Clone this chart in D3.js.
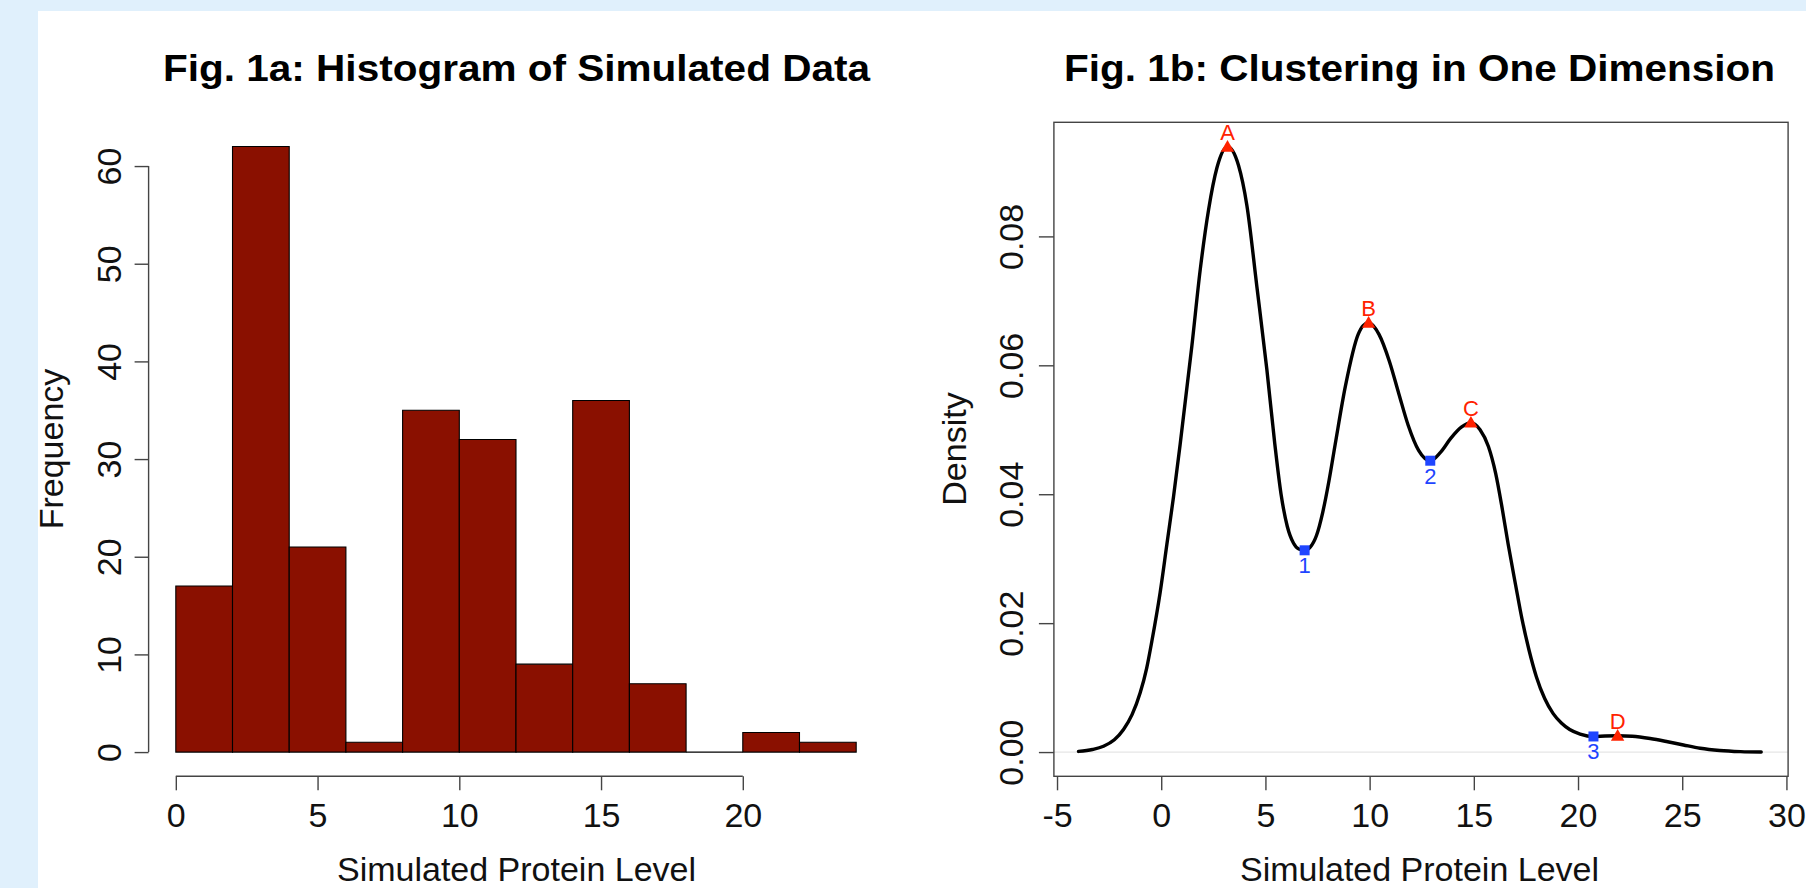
<!DOCTYPE html>
<html>
<head>
<meta charset="utf-8">
<script src="https://cdn.jsdelivr.net/npm/d3@7"></script>
<style>
  html, body { margin: 0; padding: 0; background: #e0f0fc; }
  svg { display: block; }
  text { font-family: "Liberation Sans", Arial, Helvetica, sans-serif; }
</style>
</head>
<body>
<svg id="chart" width="1806" height="888"></svg>
<script>
// ---------- Data ----------
// Fig. 1a histogram
const histBinStarts = [0, 2, 4, 6, 8, 10, 12, 14, 16, 18, 20, 22];
const histBinWidth = 2;
const histCounts = [17, 62, 21, 1, 35, 32, 9, 36, 7, 0, 2, 1];
const histXTicks = [0, 5, 10, 15, 20];
const histYTicks = [0, 10, 20, 30, 40, 50, 60];

// Fig. 1b density curve
const densityX = [-3.97, -3.3, -2.77, -2.25, -1.81, -1.4, -1.01, -0.7, -0.45, -0.05, 0.27, 0.59, 0.91, 1.47, 1.87, 2.27, 2.67, 3.18,
  3.71, 4.11, 4.59, 5.07, 5.45, 5.75, 6.05, 6.35, 6.6, 6.88,
  7.15, 7.45, 7.75, 8.05, 8.35, 8.84, 9.45, 9.7, 9.95,
  10.45, 10.95, 11.4, 11.85, 12.35, 12.91, 13.4, 13.9, 14.4, 14.86,
  15.3, 15.7, 16.05, 16.35, 16.65, 17.0, 17.32, 17.65, 18.0, 18.4, 18.8, 19.2, 19.6, 20.1, 20.74,
  21.3, 21.9, 22.6, 23.46, 24.3, 25.06, 25.86, 26.8, 27.8, 28.79];
const densityY = [0.0001, 0.0004, 0.0009, 0.0019, 0.0035, 0.0058, 0.0092, 0.0130, 0.0172, 0.0248, 0.0322, 0.0396, 0.0478, 0.0630, 0.0748, 0.0841, 0.0906, 0.0939,
  0.0910, 0.0848, 0.0722, 0.0593, 0.0478, 0.0400, 0.0350, 0.0324, 0.0315, 0.0313,
  0.0318, 0.0336, 0.0372, 0.0421, 0.0478, 0.0568, 0.0648, 0.0662, 0.0666,
  0.0648, 0.0606, 0.0556, 0.0507, 0.0468, 0.0452, 0.0465, 0.0487, 0.0504, 0.0511,
  0.0500, 0.0474, 0.0432, 0.0380, 0.0322, 0.0260, 0.0205, 0.0158, 0.0117, 0.0083, 0.0060, 0.0045, 0.0035, 0.0028, 0.00242,
  0.00250, 0.00253, 0.00245, 0.0021, 0.0016, 0.0011, 0.0006, 0.00025, 0.00007, 0.0000];

const peakLabels = ["A", "B", "C", "D"];
const peakX = [3.18, 9.95, 14.86, 21.9];
const peakY = [0.0939, 0.0666, 0.0511, 0.00253];
const troughLabels = ["1", "2", "3"];
const troughX = [6.88, 12.91, 20.74];
const troughY = [0.0313, 0.0452, 0.00242];

const densXTicks = [-5, 0, 5, 10, 15, 20, 25, 30];
const densYTicks = [0, 0.02, 0.04, 0.06, 0.08];

const titles = ["Fig. 1a: Histogram of Simulated Data", "Fig. 1b: Clustering in One Dimension"];
const xLabel = "Simulated Protein Level";
const yLabels = ["Frequency", "Density"];

// ---------- Drawing ----------
const svg = d3.select("#chart");
svg.append("rect").attr("x", 0).attr("y", 0).attr("width", 1806).attr("height", 888).attr("fill", "#e0f0fc");
svg.append("rect").attr("x", 38).attr("y", 11).attr("width", 1806 - 38).attr("height", 888 - 11).attr("fill", "#ffffff");

const axisColor = "#444";
const tickFont = 34;
const labelFont = 34;

// ----- Left panel -----
const xL = d3.scaleLinear().domain([-0.96, 24.96]).range([148.6, 883.4]);
const yL = d3.scaleLinear().domain([-2.48, 64.48]).range([776.3, 122.3]);

const gL = svg.append("g");

gL.selectAll("path.bar")
  .data(histCounts)
  .join("path")
  .attr("class", "bar")
  .attr("d", (d, i) => {
    const x0 = xL(histBinStarts[i]), x1 = xL(histBinStarts[i] + histBinWidth);
    const y0 = yL(0), y1 = yL(d);
    return `M${x0},${y0}H${x1}V${y1}H${x0}Z`;
  })
  .attr("fill", "#8a1000")
  .attr("stroke", "#000")
  .attr("stroke-width", 1.1);

function styleAxis(g, isY, baselineOffset) {
  g.select(".domain").remove();
  g.selectAll(".tick line").attr("stroke", axisColor).attr("stroke-width", 1.4);
  g.selectAll(".tick text")
    .attr("fill", "#111")
    .style("font-size", tickFont + "px")
    .attr("font-family", "Liberation Sans, Arial, sans-serif");
  if (isY) {
    g.selectAll(".tick text")
      .attr("x", 0).attr("y", 0).attr("dy", 0)
      .attr("text-anchor", "middle")
      .attr("transform", `translate(${baselineOffset},0) rotate(-90)`);
  } else {
    g.selectAll(".tick text").attr("y", baselineOffset).attr("dy", 0);
  }
}

// left y axis
const gLy = gL.append("g").attr("transform", `translate(${xL.range()[0]},0)`)
  .call(d3.axisLeft(yL).tickValues(histYTicks).tickSize(14).tickSizeOuter(0).tickFormat(d3.format("d")));
styleAxis(gLy, true, -27.6);
gLy.append("line").attr("x1", 0).attr("x2", 0)
  .attr("y1", yL(histYTicks[0])).attr("y2", yL(histYTicks[histYTicks.length - 1]))
  .attr("stroke", axisColor).attr("stroke-width", 1.4);

// left x axis
const gLx = gL.append("g").attr("transform", `translate(0,${yL.range()[0]})`)
  .call(d3.axisBottom(xL).tickValues(histXTicks).tickSize(14).tickSizeOuter(0).tickFormat(d3.format("d")));
styleAxis(gLx, false, 50.4);
gLx.append("line").attr("y1", 0).attr("y2", 0)
  .attr("x1", xL(histXTicks[0])).attr("x2", xL(histXTicks[histXTicks.length - 1]))
  .attr("stroke", axisColor).attr("stroke-width", 1.4);

// ----- Right panel -----
const xR = d3.scaleLinear().domain([-5.15, 30.08]).range([1053.9, 1788.1]);
const yR = d3.scaleLinear().domain([-0.00376, 0.0977]).range([776.3, 122.3]);
const gR = svg.append("g");

// zero reference line
gR.append("line")
  .attr("x1", xR.range()[0]).attr("x2", xR.range()[1])
  .attr("y1", yR(0)).attr("y2", yR(0))
  .attr("stroke", "#e6e6e6").attr("stroke-width", 1.2);

// density curve
const line = d3.line().x((d, i) => xR(densityX[i])).y(d => yR(d)).curve(d3.curveMonotoneX);
gR.append("path")
  .datum(densityY)
  .attr("d", line)
  .attr("fill", "none")
  .attr("stroke", "#000")
  .attr("stroke-width", 3.4)
  .attr("stroke-linejoin", "round")
  .attr("stroke-linecap", "round");

// box
gR.append("rect")
  .attr("x", xR.range()[0]).attr("y", yR.range()[1])
  .attr("width", xR.range()[1] - xR.range()[0])
  .attr("height", yR.range()[0] - yR.range()[1])
  .attr("fill", "none").attr("stroke", axisColor).attr("stroke-width", 1.4);

// right y axis
const gRy = gR.append("g").attr("transform", `translate(${xR.range()[0]},0)`)
  .call(d3.axisLeft(yR).tickValues(densYTicks).tickSize(15).tickSizeOuter(0).tickFormat(d3.format(".2f")));
styleAxis(gRy, true, -30.9);

// right x axis
const gRx = gR.append("g").attr("transform", `translate(0,${yR.range()[0]})`)
  .call(d3.axisBottom(xR).tickValues(densXTicks).tickSize(14).tickSizeOuter(0).tickFormat(d => String(d)));
styleAxis(gRx, false, 50.4);

// peaks
const red = "#ff2200", blue = "#1f45ff";
gR.selectAll("path.peak")
  .data(peakX)
  .join("path")
  .attr("class", "peak")
  .attr("d", d3.symbol().type(d3.symbolTriangle).size(78))
  .attr("transform", (d, i) => `translate(${xR(d)},${yR(peakY[i]) + 1})`)
  .attr("fill", red);
gR.selectAll("text.peakLabel")
  .data(peakLabels)
  .join("text")
  .attr("class", "peakLabel")
  .attr("x", (d, i) => xR(peakX[i]))
  .attr("y", (d, i) => yR(peakY[i]) - 7)
  .attr("text-anchor", "middle")
  .style("font-size", "22px")
  .attr("fill", red)
  .text(d => d);

// troughs
gR.selectAll("path.trough")
  .data(troughX)
  .join("path")
  .attr("class", "trough")
  .attr("d", d3.symbol().type(d3.symbolSquare).size(100))
  .attr("transform", (d, i) => `translate(${xR(d)},${yR(troughY[i])})`)
  .attr("fill", blue);
gR.selectAll("text.troughLabel")
  .data(troughLabels)
  .join("text")
  .attr("class", "troughLabel")
  .attr("x", (d, i) => xR(troughX[i]))
  .attr("y", (d, i) => yR(troughY[i]) + 23)
  .attr("text-anchor", "middle")
  .style("font-size", "22px")
  .attr("fill", blue)
  .text(d => d);

// ----- Titles and axis labels -----
const panelCenters = [516.5, 1419.5];
const titleWidths = [707, 711];
svg.selectAll("text.title")
  .data(titles)
  .join("text")
  .attr("class", "title")
  .attr("x", (d, i) => panelCenters[i])
  .attr("y", 81)
  .attr("text-anchor", "middle")
  .attr("textLength", (d, i) => titleWidths[i])
  .attr("lengthAdjust", "spacingAndGlyphs")
  .style("font-size", "36px")
  .style("font-weight", "bold")
  .attr("fill", "#000")
  .text(d => d);

svg.selectAll("text.xlab")
  .data(panelCenters)
  .join("text")
  .attr("class", "xlab")
  .attr("x", d => d)
  .attr("y", 880.5)
  .attr("text-anchor", "middle")
  .style("font-size", labelFont + "px")
  .attr("fill", "#111")
  .text(xLabel);

const yLabBaselines = [63, 966];
svg.selectAll("text.ylab")
  .data(yLabels)
  .join("text")
  .attr("class", "ylab")
  .attr("transform", (d, i) => `translate(${yLabBaselines[i]},449) rotate(-90)`)
  .attr("text-anchor", "middle")
  .style("font-size", labelFont + "px")
  .attr("fill", "#111")
  .text(d => d);
</script>
</body>
</html>
